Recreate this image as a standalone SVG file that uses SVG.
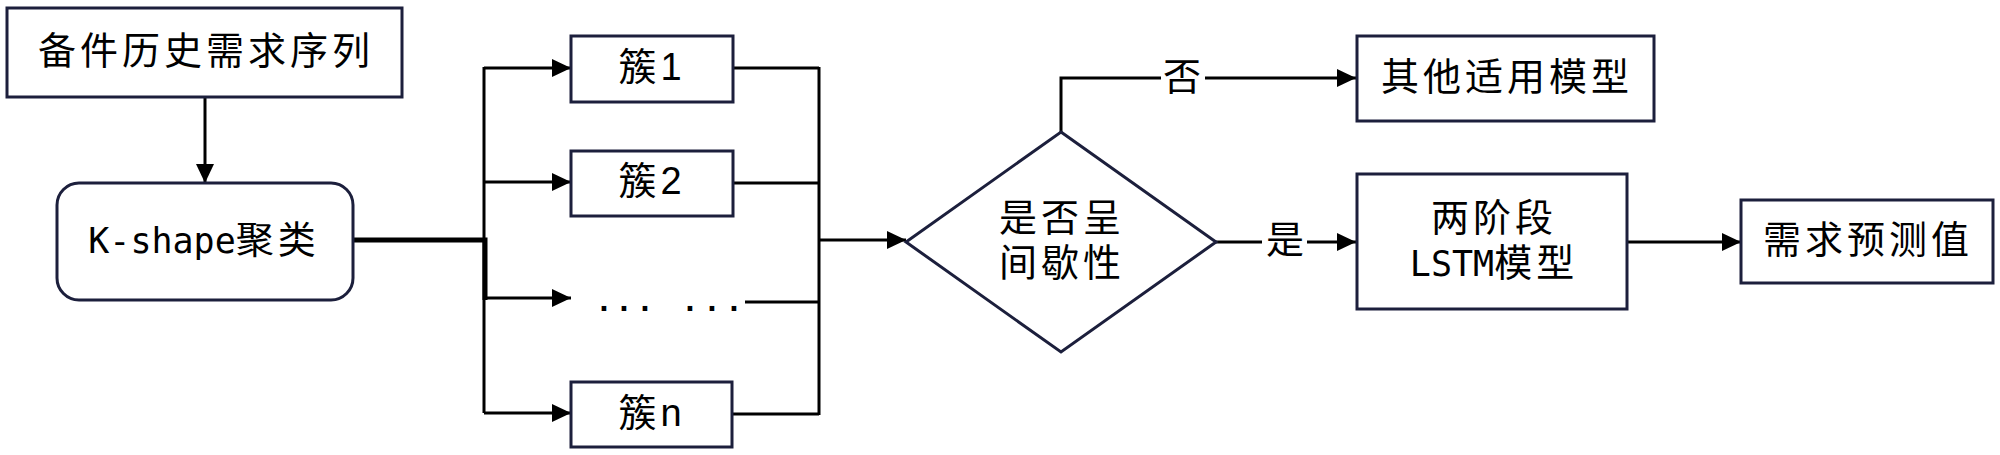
<svg xmlns="http://www.w3.org/2000/svg" width="2000" height="455" viewBox="0 0 2000 455">
<style>
.box{fill:#fff;stroke:#1c1f3c;stroke-width:3}
.ln{fill:none;stroke:#000;stroke-width:3}
.thick{fill:none;stroke:#000;stroke-width:5}
.t{font-family:"Noto Sans CJK SC","Noto Sans",sans-serif;font-size:38px;letter-spacing:4px;fill:#000;text-anchor:middle}
.m{font-family:"DejaVu Sans Mono",monospace;font-size:35px;letter-spacing:0}
.n{font-family:"Liberation Sans",Arial,sans-serif;font-size:38px;letter-spacing:0}
</style>
<defs>
<marker id="ah" markerUnits="userSpaceOnUse" markerWidth="20" markerHeight="20" refX="19" refY="9" orient="auto">
<path d="M0,0 L19,9 L0,18 z" fill="#000"/>
</marker>
</defs>
<rect width="2000" height="455" fill="#fff"/>
<g id="connectors">
<line class="ln" x1="205" y1="97" x2="205" y2="183" marker-end="url(#ah)"/>
<path class="thick" d="M353,240 H485 V300"/>
<line class="ln" x1="484" y1="67" x2="484" y2="413"/>
<line class="ln" x1="484" y1="68" x2="571" y2="68" marker-end="url(#ah)"/>
<line class="ln" x1="484" y1="182" x2="571" y2="182" marker-end="url(#ah)"/>
<line class="ln" x1="484" y1="298" x2="571" y2="298" marker-end="url(#ah)"/>
<line class="ln" x1="484" y1="413" x2="571" y2="413" marker-end="url(#ah)"/>
<line class="ln" x1="733" y1="68" x2="819" y2="68"/>
<line class="ln" x1="733" y1="183" x2="819" y2="183"/>
<line class="ln" x1="745" y1="302" x2="819" y2="302"/>
<line class="ln" x1="733" y1="414" x2="819" y2="414"/>
<line class="ln" x1="819" y1="67" x2="819" y2="415"/>
<line class="ln" x1="819" y1="240" x2="906" y2="240" marker-end="url(#ah)"/>
<path class="ln" d="M1061,132 V78 H1161"/>
<line class="ln" x1="1205" y1="78" x2="1356" y2="78" marker-end="url(#ah)"/>
<line class="ln" x1="1216" y1="242" x2="1262" y2="242"/>
<line class="ln" x1="1307" y1="242" x2="1356" y2="242" marker-end="url(#ah)"/>
<line class="ln" x1="1627" y1="242" x2="1741" y2="242" marker-end="url(#ah)"/>
<text class="t" x="1184" y="90">否</text>
<text class="t" x="1287" y="253">是</text>
</g>
<g id="n-history">
<rect class="box" x="7" y="8" width="395" height="89"/>
<text class="t" x="206" y="64">备件历史需求序列</text>
</g>
<g id="n-kshape">
<rect class="box" x="57" y="183" width="296" height="117" rx="22"/>
<text class="t" x="204" y="253"><tspan class="m">K-shape</tspan>聚类</text>
</g>
<g id="n-c1">
<rect class="box" x="571" y="36" width="162" height="66"/>
<text class="t" x="650" y="80">簇<tspan class="n">1</tspan></text>
</g>
<g id="n-c2">
<rect class="box" x="571" y="151" width="162" height="65"/>
<text class="t" x="650" y="194">簇<tspan class="n">2</tspan></text>
</g>
<g id="n-dots">
<text font-family="DejaVu Sans,sans-serif" font-size="26" font-weight="bold" fill="#000" x="599 619 640 685 707 729" y="311">......</text>
</g>
<g id="n-cn">
<rect class="box" x="571" y="382" width="161" height="65"/>
<text class="t" x="650" y="426">簇<tspan class="n">n</tspan></text>
</g>
<g id="n-decision">
<polygon class="box" points="1061,132 1216,242 1061,352 906,242"/>
<text class="t" y="231"><tspan x="1062">是否呈</tspan><tspan x="1062" dy="45">间歇性</tspan></text>
</g>
<g id="n-other">
<rect class="box" x="1357" y="36" width="297" height="85"/>
<text class="t" x="1507" y="90">其他适用模型</text>
</g>
<g id="n-lstm">
<rect class="box" x="1357" y="174" width="270" height="135"/>
<text class="t" y="231"><tspan x="1494">两阶段</tspan><tspan x="1494" dy="45"><tspan class="m">LSTM</tspan>模型</tspan></text>
</g>
<g id="n-pred">
<rect class="box" x="1741" y="200" width="252" height="83"/>
<text class="t" x="1868" y="253">需求预测值</text>
</g>
</svg>
